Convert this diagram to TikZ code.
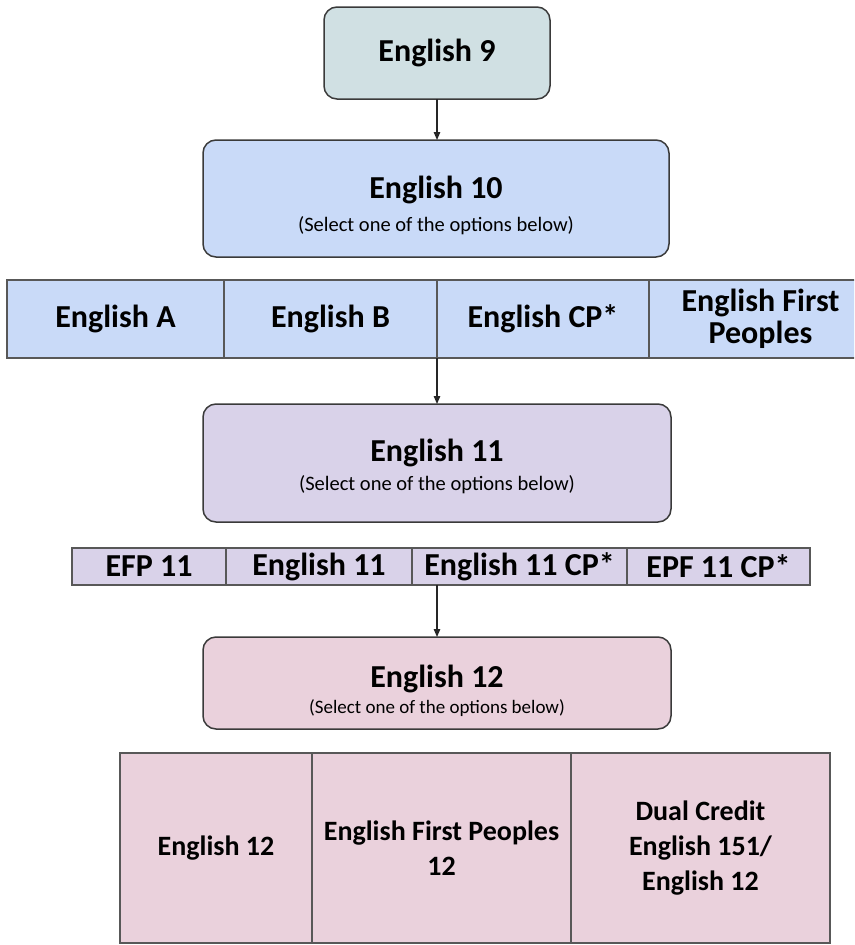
\documentclass[tikz,border=0pt]{standalone}
\usepackage{fontspec}
\setmainfont{Carlito}
\usetikzlibrary{positioning,arrows.meta}

\definecolor{nineFill}{HTML}{D0E0E3}
\definecolor{tenFill}{HTML}{C9DAF8}
\definecolor{elevenFill}{HTML}{D9D2E9}
\definecolor{twelveFill}{HTML}{EAD1DC}
\definecolor{edge}{HTML}{3A3A3A}

\newcommand{\titlefont}{\bfseries\fontsize{32}{30}\selectfont}
\newcommand{\subline}[2][3pt]{\\[#1]{\normalfont\fontsize{20.5}{24}\selectfont #2}}

\begin{document}
\begin{tikzpicture}[x=1pt,y=-1pt,
  course/.style={draw=edge, line width=1.5pt, rounded corners=13pt, align=center,
    inner sep=0pt, outer sep=0pt, font=\titlefont},
  cell/.style={draw=edge!85, line width=1.2pt, align=center, inner sep=0pt,
    outer sep=0pt, font=\titlefont},
  flow/.style={-{Triangle[length=8pt,width=6.5pt]}, line width=1.3pt, draw=black!85}]
\useasboundingbox (0,0) rectangle (854,945);
\clip (0,0) rectangle (854,945);

% grade boxes
\node[course, fill=nineFill, minimum width=226pt, minimum height=92pt] (e9) at (437,53) {English 9};
\node[course, fill=tenFill, minimum width=466pt, minimum height=117pt] (e10) at (436,198.5)
  {\rule{0pt}{37pt}English 10\subline{(Select one of the options below)}};
\node[course, fill=elevenFill, minimum width=468pt, minimum height=118pt] (e11) at (437,463)
  {\rule{0pt}{29pt}English 11\subline[-1pt]{(Select one of the options below)}};
\node[course, fill=twelveFill, minimum width=468pt, minimum height=92pt] (e12) at (437,683)
  {\rule{0pt}{38pt}English 12\\[-4pt]{\normalfont\fontsize{19}{22}\selectfont(Select one of the options below)}};

% grade 10 options
\node[cell, fill=tenFill, anchor=north west, minimum width=217pt, minimum height=78pt] (r1a) at (7,280) {English A};
\node[cell, fill=tenFill, minimum width=213pt, minimum height=78pt, right=0pt of r1a] (r1b) {English B};
\node[cell, fill=tenFill, minimum width=212pt, minimum height=78pt, right=0pt of r1b] (r1c) {English CP*};
\node[cell, fill=tenFill, minimum width=223pt, minimum height=78pt, right=0pt of r1c] (r1d) {English First\\[2pt]Peoples};

% grade 11 options
\node[cell, fill=elevenFill, anchor=north west, minimum width=154pt, minimum height=37pt] (r2a) at (72,548) {EFP 11};
\node[cell, fill=elevenFill, minimum width=186pt, minimum height=37pt, right=0pt of r2a] (r2b) {English 11};
\node[cell, fill=elevenFill, minimum width=215pt, minimum height=37pt, right=0pt of r2b] (r2c) {English 11 CP*};
\node[cell, fill=elevenFill, minimum width=183pt, minimum height=37pt, right=0pt of r2c] (r2d) {EPF 11 CP*};

% grade 12 options
\tikzset{cell/.append style={font=\bfseries\fontsize{28}{35}\selectfont}}
\node[cell, fill=twelveFill, anchor=north west, minimum width=192pt, minimum height=190pt] (r3a) at (120,753) {English 12};
\node[cell, fill=twelveFill, minimum width=259pt, minimum height=190pt, right=0pt of r3a] (r3b) {English First Peoples\\12};
\node[cell, fill=twelveFill, minimum width=259pt, minimum height=190pt, right=0pt of r3b] (r3c) {Dual Credit\\English 151/\\English 12};

% arrows
\draw[flow] (e9.south) -- (e9.south |- e10.north);
\draw[flow] (r1b.south east) -- (r1b.south east |- e11.north);
\draw[flow] (e12.north |- r2c.south) -- (e12.north);
\end{tikzpicture}
\end{document}
